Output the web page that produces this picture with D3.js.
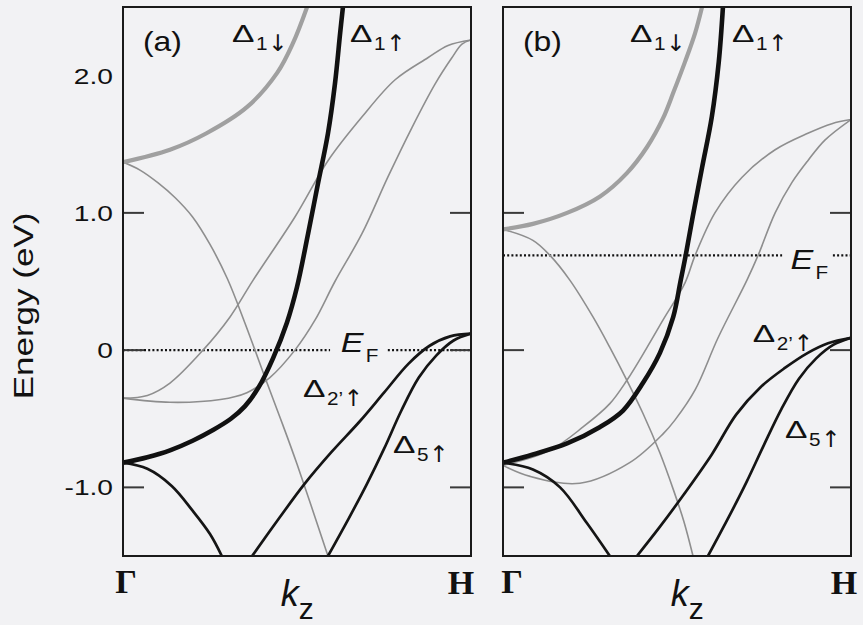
<!DOCTYPE html>
<html>
<head>
<meta charset="utf-8">
<script src="https://cdn.jsdelivr.net/npm/d3@7"></script>
<style>
  html, body { margin: 0; padding: 0; background: #f2f2f4; }
  svg { display: block; font-family: "Liberation Sans", Arial, Helvetica, sans-serif; }
  text { fill: #111; }
</style>
</head>
<body>
<svg id="chart" width="863" height="625"></svg>
<script>
// ---- data: bands along Γ–H (k_z from 0 to 1), energies in eV ----
const energyDomain = [-1.5, 2.5];
const yTickValues = [2, 1, 0, -1];
const yTickLabels = ["2.0", "1.0", "0", "-1.0"];
const tickMarkValues = [1, 0, -1];
const kEndLabels = ["Γ", "H"];
const panelNames = ["(a)", "(b)"];
const fermiLevels = [0, 0.69];

// panel (a)
const a_D1dn = [[0,1.37],[0.135,1.46],[0.24,1.58],[0.356,1.77],[0.443,2.02],[0.489,2.24],[0.529,2.5]];
const a_D1up = [[0,-0.82],[0.07,-0.78],[0.135,-0.73],[0.2,-0.66],[0.26,-0.58],[0.31,-0.5],[0.35,-0.41],[0.39,-0.27],[0.431,-0.06],[0.471,0.2],[0.5,0.46],[0.532,0.85],[0.56,1.21],[0.589,1.58],[0.609,1.94],[0.624,2.31],[0.632,2.5]];
const a_grayDown = [[0,1.37],[0.05,1.31],[0.1,1.22],[0.15,1.11],[0.2,0.97],[0.25,0.77],[0.3,0.52],[0.35,0.2],[0.414,-0.24],[0.46,-0.55],[0.5,-0.83],[0.589,-1.5]];
const a_grayUpper = [[0,-0.35],[0.07,-0.33],[0.135,-0.24],[0.23,0],[0.307,0.24],[0.374,0.51],[0.494,0.97],[0.589,1.38],[0.687,1.7],[0.782,1.97],[0.876,2.13],[0.934,2.22],[1,2.26]];
const a_grayLower = [[0,-0.35],[0.135,-0.38],[0.28,-0.36],[0.356,-0.31],[0.422,-0.2],[0.494,0],[0.552,0.22],[0.609,0.5],[0.687,0.85],[0.761,1.26],[0.83,1.62],[0.897,1.94],[0.945,2.13],[0.974,2.23],[1,2.26]];
const a_blackDown = [[0,-0.82],[0.07,-0.865],[0.14,-0.99],[0.2,-1.17],[0.25,-1.34],[0.284,-1.5]];
const a_D2up = [[0.371,-1.5],[0.45,-1.22],[0.52,-0.98],[0.6,-0.74],[0.68,-0.52],[0.75,-0.31],[0.82,-0.1],[0.88,0.03],[0.94,0.1],[1,0.12]];
const a_D5up = [[0.589,-1.5],[0.65,-1.22],[0.7,-0.98],[0.75,-0.72],[0.8,-0.44],[0.85,-0.2],[0.9,-0.04],[0.95,0.07],[1,0.12]];

// panel (b)
const b_D1dn = [[0,0.88],[0.086,0.92],[0.184,1.0],[0.279,1.12],[0.356,1.29],[0.414,1.48],[0.46,1.69],[0.49,1.88],[0.523,2.1],[0.552,2.31],[0.572,2.5]];
const b_D1up = [[0,-0.82],[0.086,-0.76],[0.184,-0.68],[0.279,-0.56],[0.345,-0.44],[0.402,-0.24],[0.451,-0.02],[0.489,0.24],[0.51,0.5],[0.525,0.69],[0.545,0.97],[0.572,1.33],[0.6,1.7],[0.62,2.1],[0.632,2.5]];
const b_grayDown = [[0,0.88],[0.086,0.8],[0.135,0.69],[0.192,0.51],[0.259,0.24],[0.307,0.02],[0.356,-0.22],[0.402,-0.46],[0.451,-0.75],[0.49,-1.02],[0.52,-1.25],[0.546,-1.5]];
const b_grayUpper = [[0,-0.84],[0.135,-0.73],[0.23,-0.56],[0.307,-0.39],[0.356,-0.22],[0.414,0.02],[0.46,0.22],[0.523,0.49],[0.552,0.69],[0.609,1.0],[0.687,1.26],[0.782,1.46],[0.876,1.58],[0.945,1.65],[1,1.68]];
const b_grayLower = [[0,-0.84],[0.078,-0.92],[0.221,-0.97],[0.364,-0.82],[0.46,-0.61],[0.494,-0.51],[0.552,-0.29],[0.618,0.09],[0.701,0.51],[0.733,0.69],[0.782,1.0],[0.83,1.22],[0.876,1.38],[0.925,1.53],[1,1.68]];
const b_blackDown = [[0,-0.82],[0.086,-0.87],[0.164,-1.0],[0.241,-1.26],[0.307,-1.5]];
const b_D2up = [[0.385,-1.5],[0.45,-1.29],[0.52,-1.05],[0.6,-0.76],[0.67,-0.47],[0.74,-0.27],[0.81,-0.13],[0.876,-0.02],[0.934,0.05],[1,0.09]];
const b_D5up = [[0.589,-1.5],[0.65,-1.21],[0.7,-0.96],[0.75,-0.69],[0.8,-0.43],[0.85,-0.21],[0.9,-0.06],[0.95,0.04],[1,0.09]];

// ---- drawing ----
const svg = d3.select("#chart");
const plotTop = 7, plotBottom = 556, panelW = 348;
const panelLefts = [123, 503];
const serif = "'Liberation Serif', 'Times New Roman', serif";
const arrowFont = "'DejaVu Sans', sans-serif";

const styles = {
  thinGray:  { stroke: "#8e8e8e", width: 1.6 },
  thickGray: { stroke: "#a0a0a0", width: 4.2 },
  thickBlack:{ stroke: "#111",    width: 4.6 },
  black:     { stroke: "#151515", width: 2.7 }
};

const panels = [
  {
    bands: [
      [a_grayDown, "thinGray"], [a_grayUpper, "thinGray"], [a_grayLower, "thinGray"],
      [a_D1dn, "thickGray"], [a_blackDown, "black"], [a_D2up, "black"], [a_D5up, "black"],
      [a_D1up, "thickBlack"]
    ],
    efGap: [0.595, 0.761],
    efLabel: [0.626, 2],
    kzAt: 0.453,
    endDx: [3, -10],
    labels: [
      { num: "1", arrow: "↓", k: 0.313, e: 2.245 },
      { num: "1", arrow: "↑", k: 0.652, e: 2.245 },
      { num: "2’", arrow: "↑", k: 0.517, e: -0.342 },
      { num: "5", arrow: "↑", k: 0.776, e: -0.75 }
    ]
  },
  {
    bands: [
      [b_grayDown, "thinGray"], [b_grayUpper, "thinGray"], [b_grayLower, "thinGray"],
      [b_D1dn, "thickGray"], [b_blackDown, "black"], [b_D2up, "black"], [b_D5up, "black"],
      [b_D1up, "thickBlack"]
    ],
    efGap: [0.802, 0.948],
    efLabel: [0.826, 14],
    kzAt: 0.482,
    endDx: [9, -7],
    labels: [
      { num: "1", arrow: "↓", k: 0.365, e: 2.245 },
      { num: "1", arrow: "↑", k: 0.658, e: 2.245 },
      { num: "2’", arrow: "↑", k: 0.718, e: 0.059 },
      { num: "5", arrow: "↑", k: 0.81, e: -0.64 }
    ]
  }
];

const y = d3.scaleLinear().domain(energyDomain).range([plotBottom, plotTop]);

// Δ with a spin-resolved subscript, e.g. Δ1↑
function deltaLabel(g, px, py, num, arrow) {
  const grp = g.append("g").attr("transform", `translate(${px},${py})`);
  grp.append("text").attr("transform", "scale(1.4,1)").attr("font-size", 24).text("Δ");
  const s = grp.append("text").attr("transform", "translate(24,8) scale(1.15,1)").attr("font-size", 18).text(num);
  const w = s.node().getComputedTextLength() * 1.15;
  grp.append("text").attr("x", 24 + w + 0.5).attr("y", 9)
    .attr("font-family", arrowFont).attr("font-size", 23).text(arrow);
}

panels.forEach((p, i) => {
  const left = panelLefts[i];
  const x = d3.scaleLinear().domain([0, 1]).range([left, left + panelW]);
  const g = svg.append("g");

  const clipId = "clip" + i;
  svg.append("clipPath").attr("id", clipId)
    .append("rect").attr("x", left).attr("y", plotTop).attr("width", panelW).attr("height", plotBottom - plotTop);

  // Fermi level, dotted, broken where the E_F label sits
  const ef = fermiLevels[i];
  [[0, p.efGap[0]], [p.efGap[1], 1]].forEach(seg => {
    g.append("line")
      .attr("x1", x(seg[0])).attr("x2", x(seg[1]))
      .attr("y1", y(ef)).attr("y2", y(ef))
      .attr("stroke", "#111").attr("stroke-width", 2.2)
      .attr("stroke-dasharray", "2,2.2");
  });

  // bands
  const line = d3.line().x(d => x(d[0])).y(d => y(d[1])).curve(d3.curveCatmullRom.alpha(0.5));
  const bandG = g.append("g").attr("clip-path", `url(#${clipId})`);
  p.bands.forEach(([data, st]) => {
    bandG.append("path").datum(data)
      .attr("d", line)
      .attr("fill", "none")
      .attr("stroke", styles[st].stroke)
      .attr("stroke-width", styles[st].width)
      .attr("stroke-linejoin", "round")
      .attr("stroke-linecap", "round");
  });

  // inward tick marks on both sides
  tickMarkValues.forEach(v => {
    g.append("line").attr("x1", left).attr("x2", left + 21).attr("y1", y(v)).attr("y2", y(v))
      .attr("stroke", "#3a3a3a").attr("stroke-width", 2);
    g.append("line").attr("x1", left + panelW - 21).attr("x2", left + panelW).attr("y1", y(v)).attr("y2", y(v))
      .attr("stroke", "#3a3a3a").attr("stroke-width", 2);
  });

  // frame
  g.append("rect").attr("x", left).attr("y", plotTop).attr("width", panelW).attr("height", plotBottom - plotTop)
    .attr("fill", "none").attr("stroke", "#1a1a1a").attr("stroke-width", 2);

  // panel name
  g.append("text").attr("transform", `translate(${left + 20},51) scale(1.18,1)`)
    .attr("font-size", 27).text(panelNames[i]);

  // band labels
  p.labels.forEach(l => deltaLabel(g, x(l.k), y(l.e), l.num, l.arrow));

  // E_F label
  const efG = g.append("g").attr("transform", `translate(${x(p.efLabel[0])},${y(ef) + p.efLabel[1]})`);
  efG.append("text").attr("transform", "scale(1.22,1)").attr("font-size", 28).attr("font-style", "italic").text("E");
  efG.append("text").attr("transform", "translate(25,10) scale(1.15,1)").attr("font-size", 18).text("F");

  // Γ and H end labels
  g.append("text").attr("x", x(0) + p.endDx[0]).attr("y", 593).attr("text-anchor", "middle")
    .attr("font-family", serif).attr("font-weight", "bold")
    .attr("font-size", 34).text(kEndLabels[0]);
  g.append("text").attr("x", x(1) + p.endDx[1]).attr("y", 594).attr("text-anchor", "middle")
    .attr("font-family", serif).attr("font-weight", "bold")
    .attr("font-size", 34).text(kEndLabels[1]);

  // k_z axis title
  const kt = g.append("text").attr("x", x(p.kzAt)).attr("y", 606).attr("font-size", 36);
  kt.append("tspan").attr("font-style", "italic").text("k");
  kt.append("tspan").attr("font-size", 30).attr("dy", 13).text("z");
});

// energy tick labels on the left of panel (a)
svg.append("g").selectAll("text").data(yTickValues).join("text")
  .attr("transform", d => `translate(113,${y(d) + 8}) scale(1.28,1)`)
  .attr("text-anchor", "end").attr("font-size", 22)
  .text((d, i) => yTickLabels[i]);

// energy axis title
svg.append("text")
  .attr("transform", "translate(33,306) rotate(-90) scale(1.25,1)")
  .attr("text-anchor", "middle").attr("font-size", 28)
  .text("Energy (eV)");
</script>
</body>
</html>
